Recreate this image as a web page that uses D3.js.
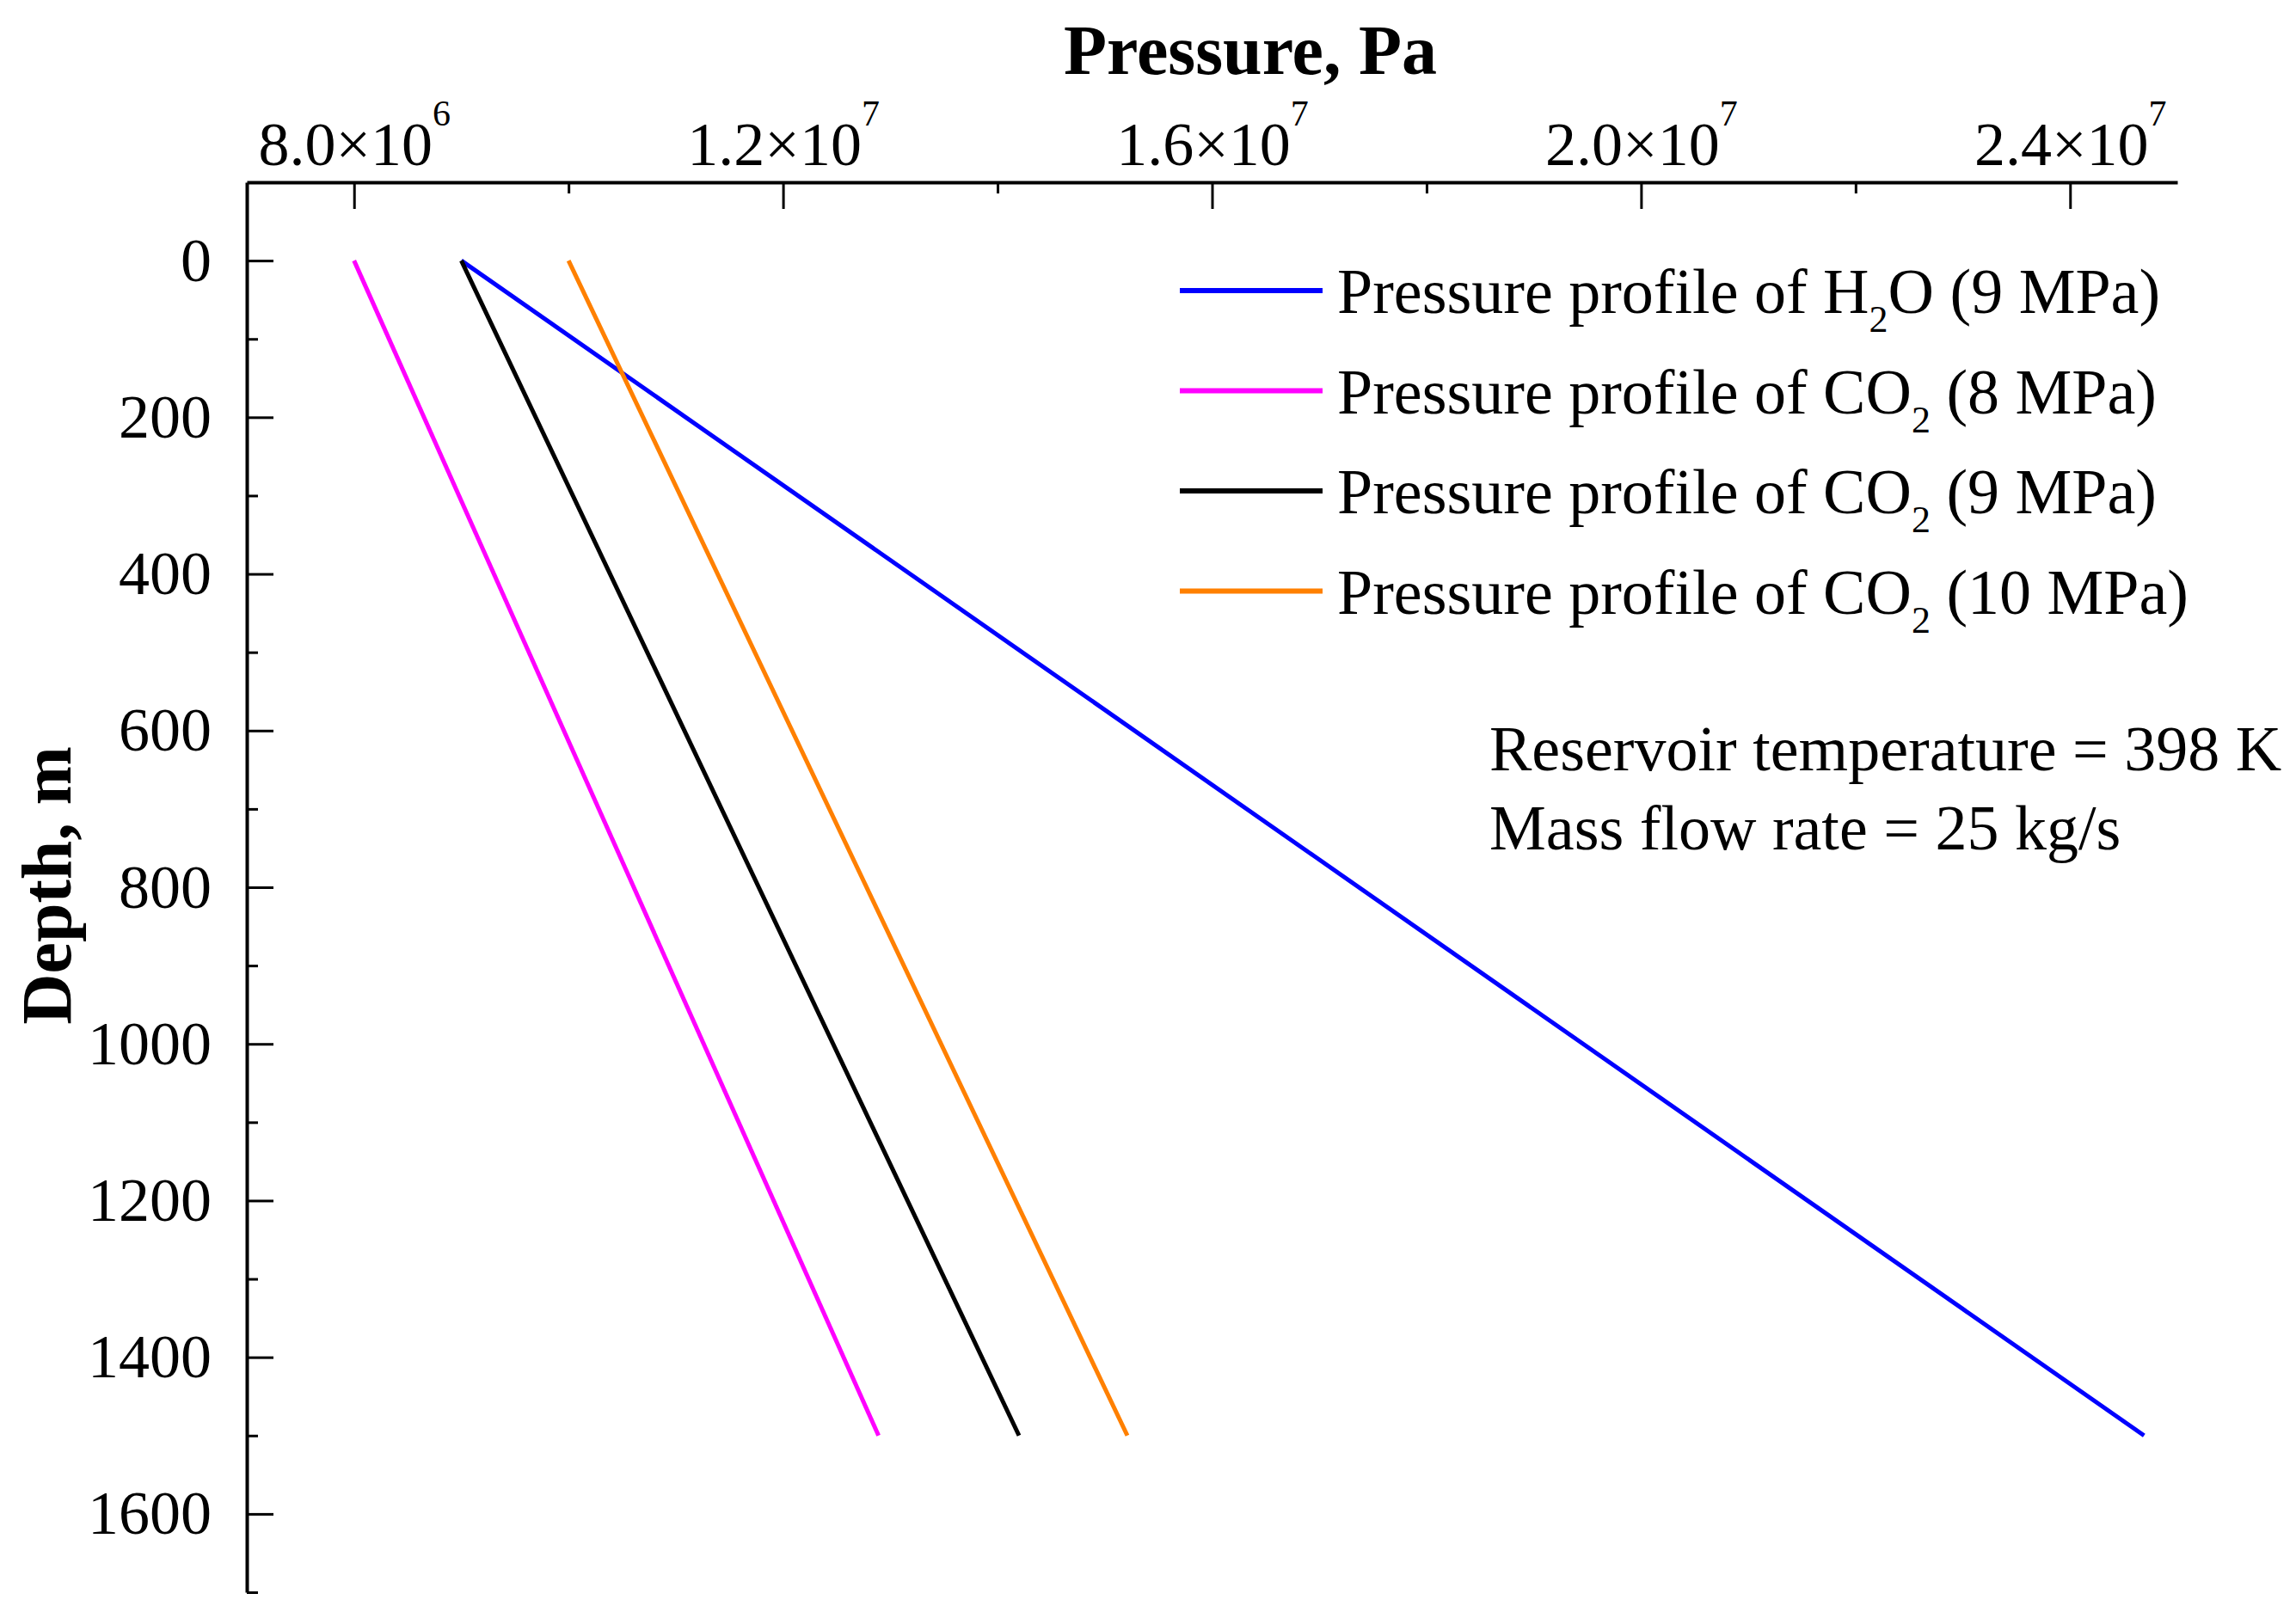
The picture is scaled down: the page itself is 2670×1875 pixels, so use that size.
<!DOCTYPE html>
<html>
<head>
<meta charset="utf-8">
<script src="https://cdn.jsdelivr.net/npm/d3@7"></script>
<style>
    body { margin: 0; background: #fff; }
    text { font-family: "Liberation Serif", "Times New Roman", serif; fill: #000; }
    .axis path, .axis line { stroke: #000; }
    .axis text { font-size: 72px; }
</style>
</head>
<body>
<svg id="chart"></svg>
<script>
// depth (m) and pressure (Pa)
const depth = [0, 1500];
const pH2O_9 = [9.0e6, 2.469e7];
const pCO2_8 = [8.0e6, 1.289e7];
const pCO2_9 = [9.0e6, 1.420e7];
const pCO2_10 = [1.0e7, 1.521e7];

const seriesNames = ["H2O_9", "CO2_8", "CO2_9", "CO2_10"];
const seriesValues = [pH2O_9, pCO2_8, pCO2_9, pCO2_10];
const seriesColors = ["#0000ff", "#ff00ff", "#000000", "#ff8000"];
// legend: [prefix, subscript, suffix]
const legendLabels = [
    ["Pressure profile of H", "2", "O (9 MPa)"],
    ["Pressure profile of CO", "2", " (8 MPa)"],
    ["Pressure profile of CO", "2", " (9 MPa)"],
    ["Pressure profile of CO", "2", " (10 MPa)"]
];

const xMajor = [8e6, 1.2e7, 1.6e7, 2.0e7, 2.4e7];
const xMinor = [1.0e7, 1.4e7, 1.8e7, 2.2e7];
const yMajor = [0, 200, 400, 600, 800, 1000, 1200, 1400, 1600];
const yMinor = [100, 300, 500, 700, 900, 1100, 1300, 1500, 1700];

const notes = ["Reservoir temperature = 398 K", "Mass flow rate = 25 kg/s"];

const W = 2670, H = 1875;

const svg = d3.select("#chart")
    .attr("width", W)
    .attr("height", H);

const x = d3.scaleLinear().domain([7e6, 2.5e7]).range([287, 2532]);
const y = d3.scaleLinear().domain([-100, 1700]).range([212, 1852]);

// top x axis, ticks pointing into the plot
const xAxisG = svg.append("g")
    .attr("class", "axis")
    .attr("transform", "translate(0," + y.range()[0] + ")")
    .call(d3.axisTop(x).tickValues(xMajor).tickSizeInner(-31).tickSizeOuter(0).tickPadding(20));

xAxisG.selectAll(".tick text").each(function(d) {
    let exp = Math.floor(Math.log10(d));
    let mant = (d / Math.pow(10, exp)).toFixed(1);
    let t = d3.select(this).text(null);
    t.append("tspan").text(mant + "\u00d710");
    t.append("tspan").attr("font-size", 42).attr("dy", -46).text(exp);
});

svg.append("g")
    .attr("class", "axis")
    .attr("transform", "translate(0," + y.range()[0] + ")")
    .call(d3.axisTop(x).tickValues(xMinor).tickSizeInner(-13).tickSizeOuter(0).tickFormat(""))
    .select(".domain").remove();

// left y axis
svg.append("g")
    .attr("class", "axis")
    .attr("transform", "translate(" + x.range()[0] + ",0)")
    .call(d3.axisLeft(y).tickValues(yMajor).tickSizeInner(-31).tickSizeOuter(0).tickPadding(41).tickFormat(d3.format("d")));

svg.append("g")
    .attr("class", "axis")
    .attr("transform", "translate(" + x.range()[0] + ",0)")
    .call(d3.axisLeft(y).tickValues(yMinor).tickSizeInner(-13).tickSizeOuter(0).tickFormat(""))
    .select(".domain").remove();

svg.selectAll(".axis .domain").attr("stroke-width", 4);
svg.selectAll(".axis .tick line").attr("stroke-width", 3);

// series lines
const line = d3.line()
    .x(d => x(d[0]))
    .y(d => y(d[1]));

seriesValues.forEach((vals, i) => {
    svg.append("path")
        .datum(vals.map((v, j) => [v, depth[j]]))
        .attr("class", "line " + seriesNames[i])
        .attr("fill", "none")
        .attr("stroke", seriesColors[i])
        .attr("stroke-width", 5)
        .attr("d", line);
});

// legend
const legend = svg.append("g").attr("class", "legend");
legendLabels.forEach((lab, i) => {
    let ly = 338 + i * 116.5;
    legend.append("line")
        .attr("x1", 1372).attr("x2", 1538)
        .attr("y1", ly).attr("y2", ly)
        .attr("stroke", seriesColors[i])
        .attr("stroke-width", 6);
    let t = legend.append("text")
        .attr("x", 1555)
        .attr("y", ly + 26)
        .attr("font-size", 74);
    t.append("tspan").text(lab[0]);
    t.append("tspan").attr("font-size", 44).attr("dy", 22).text(lab[1]);
    t.append("tspan").attr("dy", -22).text(lab[2]);
});

// notes
notes.forEach((n, i) => {
    svg.append("text")
        .attr("x", 1732)
        .attr("y", 896 + i * 92)
        .attr("font-size", 74)
        .text(n);
});

// axis titles
svg.append("text")
    .attr("x", 1454)
    .attr("y", 86)
    .attr("text-anchor", "middle")
    .attr("font-size", 82)
    .attr("font-weight", "bold")
    .text("Pressure, Pa");

svg.append("text")
    .attr("transform", "translate(82,1030) rotate(-90)")
    .attr("text-anchor", "middle")
    .attr("font-size", 82)
    .attr("font-weight", "bold")
    .text("Depth, m");
</script>
</body>
</html>
